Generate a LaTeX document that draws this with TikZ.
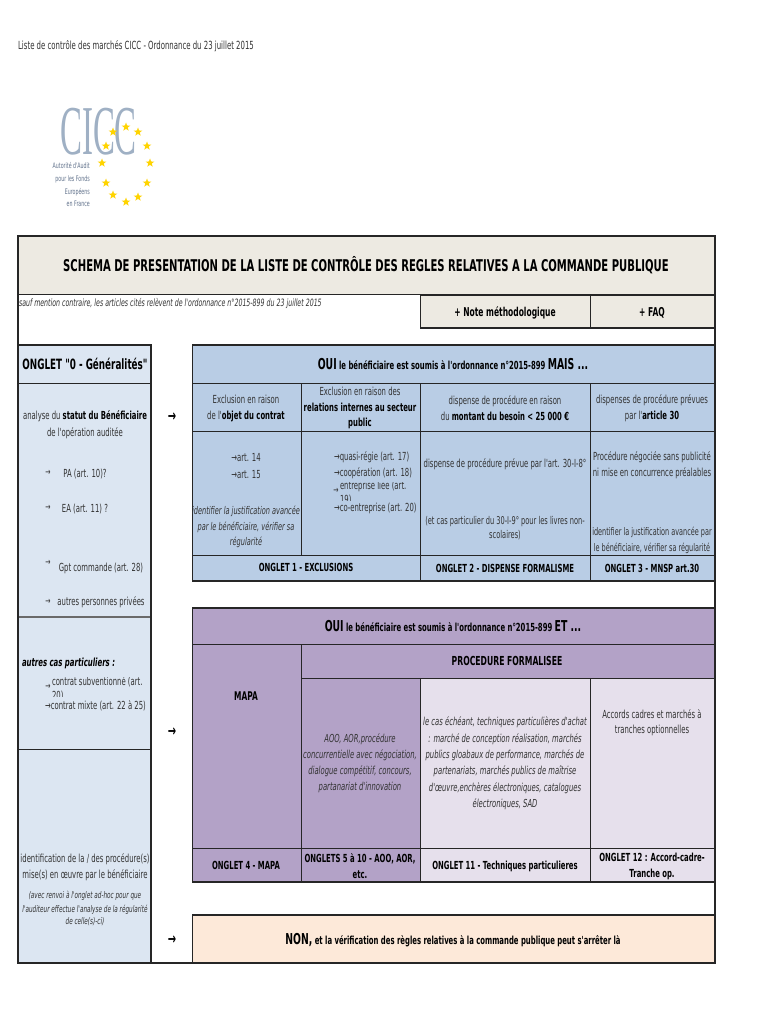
\documentclass[tikz,border=0pt]{standalone}
\usepackage{fontspec}
\newfontfamily\mainf{DejaVu Sans}[FakeStretch=0.62]
\newfontfamily\logofont{Liberation Serif}
\usetikzlibrary{shapes.geometric}
\definecolor{frameC}{HTML}{262626}
\definecolor{grayL}{HTML}{6A6A6A}
\definecolor{titleC}{HTML}{EDEAE2}
\definecolor{leftC}{HTML}{DCE6F2}
\definecolor{blueC}{HTML}{B9CDE5}
\definecolor{purpC}{HTML}{B3A2C7}
\definecolor{lilaC}{HTML}{E6E0EC}
\definecolor{nonC}{HTML}{FDE9D9}
\definecolor{txtC}{HTML}{333333}
\definecolor{logoC}{HTML}{9FB0C4}
\definecolor{logosubC}{HTML}{5F708A}
\definecolor{starC}{HTML}{FFD400}
\newcommand\fs[1]{\mainf\fontsize{#1}{#1}\selectfont}
\tikzset{
 x=1pt,y=-1pt,
 thick line/.style={draw=frameC,line width=1.8pt},
 cellbox/.style={draw=frameC,line width=.9pt},
 txt/.style={inner sep=0pt,outer sep=0pt,align=center,text=txtC,font=\fs{11.1}},
 btxt/.style={inner sep=0pt,outer sep=0pt,align=center,text=black,font=\fs{11.1}\bfseries},
 ltxt/.style={txt,anchor=west,align=left},
 itxt/.style={txt,font=\fs{10.6}\itshape},
 bigarrow/.style={inner sep=0pt,text=black,font=\fs{16}\bfseries},
 smallarrow/.style={inner sep=0pt,text=txtC,font=\fs{10}},
 star5/.style={star,star points=5,star point ratio=2.4,fill=starC,inner sep=0pt,minimum size=9pt},
}
\newcommand\cell[5]{\fill[#5] (#1,#2) rectangle (#3,#4); \draw[cellbox] (#1,#2) rectangle (#3,#4);}
\begin{document}
\begin{tikzpicture}
\useasboundingbox (0,0) rectangle (770,1024);
\fill[white] (0,0) rectangle (770,1024);

% page header
\node[txt,font=\fs{11.2}] (pagehead) at (136,46) {Liste de contrôle des marchés CICC - Ordonnance du 23 juillet 2015};

% logo
\node[inner sep=0pt,text=logoC,xscale=.47,transform shape,font=\logofont\fontsize{70}{70}\selectfont] (logotext) at (98.5,132) {CICC};
\node[inner sep=0pt,text=logosubC,align=right,anchor=north east,font=\fs{7.6}] (logosub) at (90,162) {Autorité d'Audit\\[5.6pt]pour les Fonds\\[4.4pt]Européens\\[4.8pt]en France};
\foreach \n/\sx/\sy in {a/126/127,b/113/132,c/138/132,d/106/146,e/147/146,f/102/163,g/150/163,h/106/183,i/147/183,j/113/195,k/138/197,l/126/202}
  \node[star5] (star\n) at (\sx,\sy) {};

% title band
\cell{18}{236}{715}{294}{titleC}
\node[btxt,font=\fs{16.2}\bfseries] (title) at (366,265) {SCHEMA DE PRESENTATION DE LA LISTE DE CONTRÔLE DES REGLES RELATIVES A LA COMMANDE PUBLIQUE};
\node[itxt,anchor=west,font=\fs{10.1}\itshape] (note) at (19,304) {sauf mention contraire, les articles cités relèvent de l'ordonnance n°2015-899 du 23 juillet 2015};
\cell{420}{295}{590}{328}{titleC}
\cell{590}{295}{715}{328}{titleC}
\node[btxt,font=\fs{12.2}\bfseries] (notem) at (505,313) {+ Note méthodologique};
\node[btxt,font=\fs{12.2}\bfseries] (faq) at (652,313) {+ FAQ};

% left column
\cell{18}{345}{151}{383}{leftC}
\cell{18}{383}{151}{617}{leftC}
\cell{18}{617}{151}{749}{leftC}
\cell{18}{749}{151}{963}{leftC}
\draw[draw=grayL,line width=1.2pt] (18,617) -- (151,617);
\node[btxt,font=\fs{14.2}\bfseries] (ong0) at (85,364) {ONGLET "0 - Généralités"};
\node[txt] (ana) at (85,425) {analyse du \textcolor{black}{\bfseries statut du Bénéficiaire}\\[4.9pt]de l'opération auditée};
\node[smallarrow] (ap1) at (48,473) {→};
\node[txt] (pa) at (85,474) {PA (art. 10)?};
\node[smallarrow] (ap2) at (48,508) {→};
\node[txt] (ea) at (85,509) {EA (art. 11) ?};
\node[smallarrow] (ap3) at (48,563) {→};
\node[txt] (gpt) at (101,568) {Gpt commande (art. 28)};
\node[smallarrow] (ap4) at (48,602) {→};
\node[txt] (pri) at (101,602) {autres personnes privées};
\node[btxt,anchor=west,font=\fs{11.2}\bfseries\itshape] (cas) at (22,663) {autres cas particuliers :};
\node[smallarrow] (ap5) at (48,687) {→};
\begin{scope}
\clip (50,677) rectangle (150,696);
\node[ltxt] (sub) at (52,688.5) {contrat subventionné (art.\\[3pt]20)};
\end{scope}
\node[ltxt] (mix) at (45,706) {→contrat mixte (art. 22 à 25)};
\node[txt] (ident) at (85,867.5) {identification de la / des procédure(s)\\[4pt]mise(s) en œuvre par le bénéficiaire};
\node[itxt,font=\fs{9.2}\itshape] (renvoi) at (85,908.5) {(avec renvoi à l'onglet ad-hoc pour que\\[3pt]l'auditeur effectue l'analyse de la régularité\\[3pt]de celle(s)-ci)};

% big arrows
\node[bigarrow] (arr1) at (172,417) {→};
\node[bigarrow] (arr2) at (172,732) {→};
\node[bigarrow] (arr3) at (172,940) {→};

% blue block
\cell{192}{345}{715}{383}{blueC}
\foreach \xa/\xb in {192/301,301/420,420/590,590/715}{
  \cell{\xa}{383}{\xb}{431}{blueC}
  \cell{\xa}{431}{\xb}{555}{blueC}
}
\cell{192}{555}{420}{581}{blueC}
\cell{420}{555}{590}{581}{blueC}
\cell{590}{555}{715}{581}{blueC}
\node[btxt] (oui1) at (453,364) {{\fs{15}\bfseries OUI} le bénéficiaire est soumis à l'ordonnance n°2015-899 {\fs{15}\bfseries MAIS ...}};
\node[txt] (ex1) at (246,408.5) {Exclusion en raison\\[4.9pt]de l'\textcolor{black}{\bfseries objet du contrat}};
\node[txt] (ex2) at (360,408) {Exclusion en raison des\\[4.4pt]\textcolor{black}{\bfseries relations internes au secteur}\\[4.4pt]\textcolor{black}{\bfseries public}};
\node[txt] (ex3) at (505,408.5) {dispense de procédure en raison\\[4.9pt]du \textcolor{black}{\bfseries montant du besoin < 25 000 €}};
\node[txt] (ex4) at (652,408.5) {dispenses de procédure prévues\\[4.9pt]par l'\textcolor{black}{\bfseries article 30}};
\node[txt] (art14) at (246,458) {→art. 14};
\node[txt] (art15) at (246,475) {→art. 15};
\node[itxt] (just1) at (246,527) {identifier la justification avancée\\[4pt]par le bénéficiaire, vérifier sa\\[4pt]régularité};
\node[ltxt] (q17) at (334,457.5) {→quasi-régie (art. 17)};
\node[ltxt] (c18) at (334,473.5) {→coopération (art. 18)};
\node[smallarrow] (a19) at (336,491) {→};
\begin{scope}
\clip (339,482) rectangle (419,500);
\node[ltxt] (e19) at (340,492.5) {entreprise liée (art.\\[3pt]19)};
\end{scope}
\node[ltxt] (c20) at (334,508.5) {→co-entreprise (art. 20)};
\node[txt] (d8) at (505,464.5) {dispense de procédure prévue par l'art. 30-I-8°};
\node[txt,font=\fs{10.7}] (d9) at (505,528) {(et cas particulier du 30-I-9° pour les livres non-\\[3.5pt]scolaires)};
\node[txt] (pn) at (652,465) {Procédure négociée sans publicité\\[4pt]ni mise en concurrence préalables};
\node[txt,font=\fs{10.5}] (just2) at (652,540) {identifier la justification avancée par\\[4.4pt]le bénéficiaire, vérifier sa régularité};
\node[btxt] (ong1) at (306,567.5) {ONGLET 1 - EXCLUSIONS};
\node[btxt] (ong2) at (505,568) {ONGLET 2 - DISPENSE FORMALISME};
\node[btxt] (ong3) at (652,568) {ONGLET 3 - MNSP art.30};

% purple block
\cell{192}{608}{715}{644}{purpC}
\cell{192}{644}{301}{848}{purpC}
\cell{301}{644}{715}{678}{purpC}
\cell{301}{678}{420}{848}{purpC}
\cell{420}{678}{590}{848}{lilaC}
\cell{590}{678}{715}{848}{lilaC}
\cell{192}{848}{301}{882}{purpC}
\cell{301}{848}{420}{882}{purpC}
\cell{420}{848}{590}{882}{lilaC}
\cell{590}{848}{715}{882}{lilaC}
\node[btxt] (oui2) at (453,626) {{\fs{15}\bfseries OUI} le bénéficiaire est soumis à l'ordonnance n°2015-899 {\fs{15}\bfseries ET ...}};
\node[btxt,font=\fs{12}\bfseries] (mapa) at (246,696) {MAPA};
\node[btxt,font=\fs{12.4}\bfseries] (pf) at (507,661) {PROCEDURE FORMALISEE};
\node[itxt,font=\fs{11}\itshape] (aoo) at (360,763) {AOO, AOR,procédure\\[4.3pt]concurrentielle avec négociation,\\[4.3pt]dialogue compétitif, concours,\\[4.3pt]partanariat d'innovation};
\node[itxt,font=\fs{11}\itshape] (tech) at (505,763.5) {le cas échéant, techniques particulières d'achat\\[4.3pt]: marché de conception réalisation, marchés\\[4.3pt]publics gloabaux de performance, marchés de\\[4.3pt]partenariats, marchés publics de maîtrise\\[4.3pt]d'œuvre,enchères électroniques, catalogues\\[4.3pt]électroniques, SAD};
\node[txt] (acc) at (652,723) {Accords cadres et marchés à\\[4pt]tranches optionnelles};
\node[btxt] (ong4) at (246,865.5) {ONGLET 4 - MAPA};
\node[btxt] (ong5) at (360,866) {ONGLETS 5 à 10 - AOO, AOR,\\[4.5pt]etc.};
\node[btxt] (ong11) at (505,866) {ONGLET 11 - Techniques particulieres};
\node[btxt] (ong12) at (652,866.5) {ONGLET 12 : Accord-cadre-\\[5.5pt]Tranche op.};

% non block
\cell{192}{915}{715}{963}{nonC}
\node[btxt] (non) at (453,940) {{\fs{15}\bfseries NON,} et la vérification des règles relatives à la commande publique peut s'arrêter là};

% frame
\draw[thick line] (18,236) -- (715,236) -- (715,963) -- (18,963) -- cycle;
\draw[thick line] (18,294.5) -- (715,294.5);
\draw[thick line] (420,328) -- (715,328);
\draw[thick line] (18,345) -- (151,345) -- (151,963);
\draw[thick line] (192,345) -- (715,345);
\draw[thick line] (192,581) -- (715,581);
\draw[thick line] (192,608) -- (715,608);
\draw[thick line] (192,882) -- (715,882);
\draw[thick line] (192,915) -- (715,915);
\end{tikzpicture}
\end{document}
